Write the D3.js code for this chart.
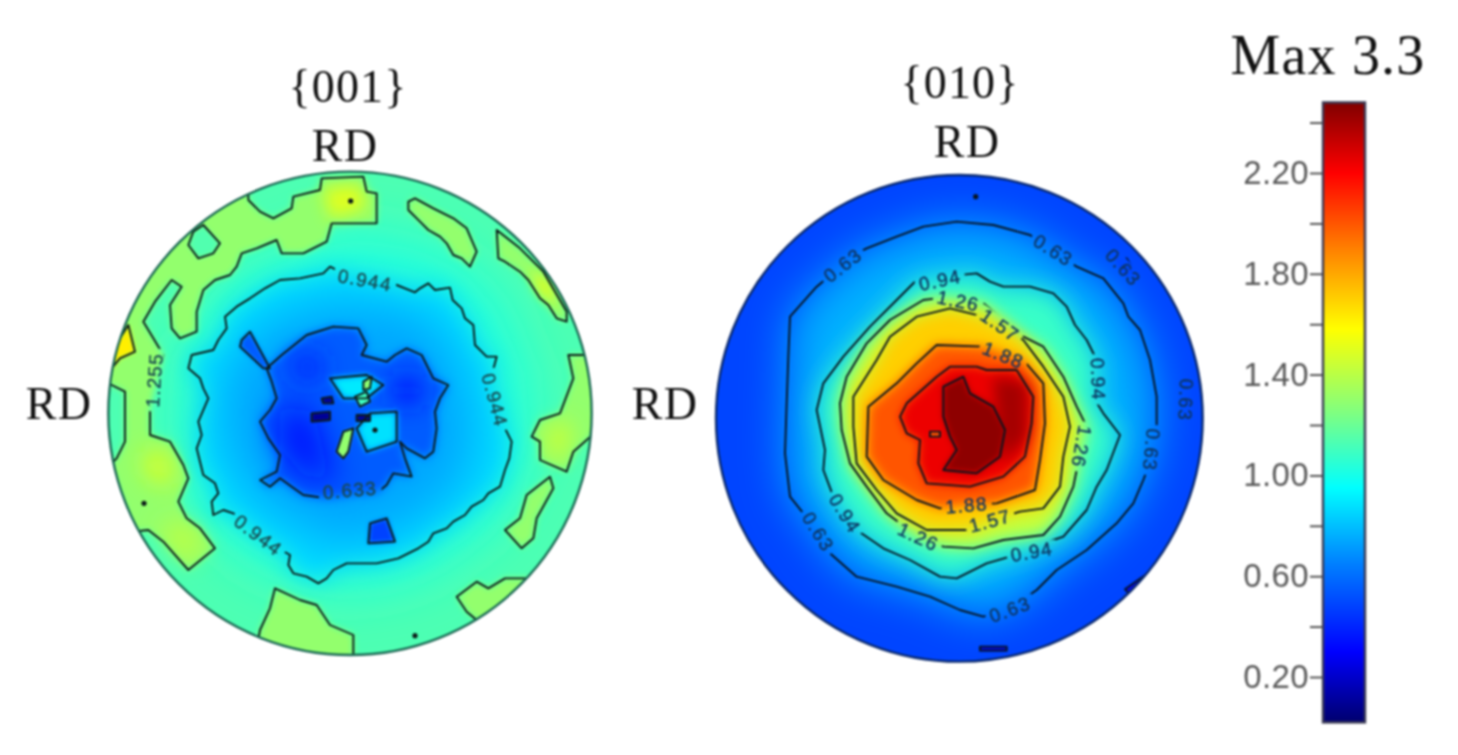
<!DOCTYPE html>
<html><head><meta charset="utf-8">
<script src="https://d3js.org/d3.v7.min.js"></script>
<style>html,body{margin:0;padding:0;background:#fff}svg{display:block;filter:blur(0.8px)}</style>
</head><body><svg id="c" width="1458" height="755"></svg>
<script>
// Colour map (value -> colour)
const barValues=[0.02,0.30,0.65,0.95,1.25,1.58,1.90,2.20,2.48];
const barColors=["#00006e","#0000ff","#0080ff","#00ffff","#80ff80","#ffff00","#ff8000","#ff0000","#800000"];
const barTicks=[0.2,0.4,0.6,0.8,1.0,1.2,1.4,1.6,1.8,2.0,2.2,2.4];
const barLabelled=[0.2,0.6,1.0,1.4,1.8,2.2];

// {001} contours, in figure units (0..1500 across the panel)
const a944=[[670,325],[690,305],[720,320],[800,335],[890,360],[915,370],[945,382],[960,370],[985,355],[1005,375],[1050,368],[1058,405],[1085,430],[1095,460],[1120,480],[1125,540],[1145,560],[1160,575],[1190,575],[1170,650],[1200,730],[1215,790],[1235,830],[1228,880],[1215,915],[1200,965],[1165,985],[1150,1005],[1115,1025],[1095,1050],[1060,1070],[1040,1090],[1000,1105],[985,1130],[955,1150],[925,1165],[895,1180],[830,1195],[740,1195],[700,1215],[680,1240],[655,1255],[620,1235],[580,1225],[565,1200],[570,1170],[500,1130],[440,1080],[400,1045],[370,1035],[340,1050],[335,1010],[355,985],[345,955],[310,930],[300,890],[290,850],[305,810],[295,770],[325,700],[310,670],[300,640],[265,610],[275,570],[340,555],[355,525],[380,490],[375,455],[410,425],[450,400],[495,370],[540,345],[600,340]];
const a125Big=[[445,60],[445,105],[480,140],[520,160],[575,130],[580,95],[660,75],[665,40],[790,35],[800,80],[830,85],[830,175],[695,175],[680,230],[610,265],[545,265],[530,225],[470,250],[425,265],[410,305],[390,330],[345,345],[310,375],[290,440],[290,500],[240,520],[215,490],[210,420],[245,365],[215,345],[165,410],[130,470],[160,520],[190,570],[170,650],[150,730],[150,810],[210,830],[250,900],[265,940],[235,1010],[260,1060],[300,1090],[345,1150],[265,1215],[190,1130],[145,1095],[100,1100],[30,900],[50,880],[75,830],[75,680],[35,660],[-20,650],[-20,400],[250,100]];
const a125Hole=[[310,180],[360,235],[340,265],[295,280],[265,240],[280,200]];
const a125B=[[925,110],[945,100],[1000,130],[1060,160],[1100,190],[1130,260],[1110,305],[1085,280],[1060,270],[1040,235],[1020,215],[985,195],[960,170],[925,135]];
const a125C=[[1190,195],[1260,250],[1330,320],[1400,440],[1400,470],[1370,460],[1345,420],[1320,400],[1285,345],[1260,320],[1215,290],[1195,280]];
const a125D=[[1405,570],[1490,570],[1500,790],[1420,860],[1400,920],[1320,885],[1320,830],[1295,815],[1320,765],[1380,745],[1420,640]];
const a125E=[[1350,935],[1360,970],[1310,1060],[1300,1120],[1265,1150],[1215,1095],[1260,1060],[1280,990]];
const a125F=[[1070,1295],[1130,1250],[1165,1270],[1215,1240],[1300,1240],[1150,1390],[1130,1365],[1100,1340]];
const a125G=[[525,1270],[600,1305],[650,1320],[690,1380],[760,1410],[760,1490],[470,1450],[480,1395],[510,1330]];
const a157Rim=[[85,480],[105,560],[60,580],[35,610],[0,620],[10,500],[60,520]];
const aHotLeft=[[130,860],[200,860],[220,950],[190,960],[140,930]];
const aHotLow=[[190,1070],[260,1080],[310,1140],[265,1190],[200,1120]];
const aHotTop=[[670,70],[780,60],[800,130],[690,160]];
const aHotRight=[[1290,310],[1350,350],[1380,430],[1320,380]];
const aHotD=[[1340,780],[1420,770],[1400,880],[1340,870]];
const a633Main=[[620,510],[700,485],[775,490],[800,540],[785,570],[860,590],[885,570],[920,550],[965,570],[985,610],[1000,640],[1045,660],[1020,700],[1005,740],[1010,790],[1000,860],[975,880],[920,850],[900,830],[915,880],[935,935],[880,925],[860,960],[830,985],[760,990],[680,1000],[610,990],[575,965],[540,940],[510,965],[480,945],[530,920],[540,870],[505,820],[490,790],[480,770],[510,735],[530,700],[515,650],[500,610],[545,570]];
const a633Arm=[[425,525],[450,500],[510,610],[490,610],[420,545]];
const a633Sq=[[810,1075],[860,1060],[885,1130],[805,1135]];
const aCyan1=[[690,640],[800,630],[850,660],[800,700],[730,700]];
const aCyan2=[[810,745],[890,740],[890,830],[800,860],[770,790]];
const aGreen1=[[790,650],[815,635],[810,670],[790,675]];
const aGreen2=[[710,860],[730,800],[760,790],[745,860],[730,880]];
const aGreen3=[[765,695],[800,680],[810,710],[780,725]];
const aBlob1=[[665,700],[695,695],[700,715],[670,715]];
const aBlob2=[[635,745],[690,740],[690,765],[635,770]];
const aBlob3=[[770,750],[810,750],[810,768],[770,768]];
const aRing=[[750,190],[1010,240],[1200,380],[1300,620],[1310,850],[1190,1090],[950,1250],[720,1290],[470,1210],[280,1050],[220,800],[240,560],[400,330]];
const aHaze=[[690,400],[950,430],[1060,540],[1130,760],[1100,950],[930,1090],[700,1150],[450,1000],[360,820],[370,620],[490,470]];
const aDeep1=[[540,720],[640,740],[670,860],[720,950],[610,930],[540,850]];
const aDeep2=[[570,570],[660,570],[670,640],[590,650]];
const aDeep3=[[880,630],[970,640],[960,720],[880,720]];

// {010} contours
const b63=[[470,235],[560,200],[640,170],[740,155],[850,165],[960,195],[1030,240],[1100,290],[1180,325],[1240,400],[1255,440],[1290,480],[1320,570],[1340,680],[1340,770],[1330,850],[1300,930],[1270,1000],[1220,1060],[1130,1140],[1040,1200],[980,1260],[900,1315],[820,1340],[750,1320],[660,1280],[560,1250],[440,1220],[360,1150],[320,1085],[280,1030],[240,980],[225,850],[230,700],[235,560],[240,440],[320,350],[440,250]];
const b94=[[620,330],[700,320],[800,310],[840,335],[880,350],[960,350],[1030,370],[1070,410],[1095,465],[1130,510],[1160,570],[1165,630],[1155,690],[1180,730],[1230,795],[1190,900],[1160,950],[1130,1020],[1060,1100],[1030,1110],[965,1140],[900,1160],[830,1180],[740,1225],[690,1220],[600,1170],[520,1135],[440,1080],[405,1030],[370,980],[340,900],[345,840],[320,720],[340,640],[400,560],[480,470],[560,390]];
const b126=[[680,385],[640,390],[540,450],[470,520],[410,620],[390,700],[395,780],[420,880],[470,950],[530,1030],[570,1060],[625,1100],[700,1130],[790,1135],[880,1110],[1000,1095],[1050,1040],[1090,950],[1100,900],[1115,830],[1130,770],[1100,710],[1060,620],[1000,530],[940,500],[820,400],[745,390]];
const b157=[[820,440],[720,415],[620,440],[540,500],[500,570],[430,680],[430,770],[440,880],[500,960],[560,1030],[650,1080],[780,1080],[850,1050],[930,1025],[1000,1015],[1050,950],[1060,860],[1080,770],[1060,680],[1000,590],[940,510],[870,465]];
const b188=[[680,525],[820,530],[880,550],[940,570],[1000,640],[1005,760],[990,870],[975,960],[860,1000],[770,1005],[690,1015],[620,990],[520,930],[470,860],[475,710],[560,640],[620,580]];
const b220=[[720,590],[800,590],[830,600],[920,600],[970,680],[965,760],[945,860],[880,920],[780,950],[650,940],[625,880],[630,810],[590,790],[570,740],[590,700],[680,620]];
const b240=[[700,650],[760,620],[780,670],[850,710],[885,780],[870,860],[800,910],[700,900],[740,840],[720,800],[700,740]];
const bDarkSide=[[850,620],[950,640],[950,800],[880,880],[860,720]];
const bSmallA=[[1215,265],[1250,265],[1275,310],[1240,320]];
const bSmallB=[[810,1430],[890,1430],[890,1442],[810,1442]];
const bSmallC=[[1245,1258],[1320,1205],[1325,1215],[1255,1268]];
const bSmallD=[[660,785],[690,785],[690,800],[660,800]];

// layers: [contour, value shown inside it, softness, draw outline]
const layers001=[[aRing,1.03,26,0],[a944,0.87,12,1],[aHaze,0.74,24,0],[a125Big,1.3,3,1],[a125B,1.3,3,1],[a125C,1.3,3,1],[a125D,1.3,3,1],[a125E,1.3,3,1],[a125F,1.3,3,1],[a125G,1.3,3,1],[a125Hole,1.14,2,1],[aHotLeft,1.5,12,0],[aHotLow,1.42,12,0],[aHotTop,1.5,8,0],[aHotRight,1.52,7,0],[aHotD,1.42,10,0],[a157Rim,1.62,2,1],[a633Main,0.55,5,1],[a633Arm,0.55,2,1],[a633Sq,0.48,2,1],[aDeep1,0.34,16,0],[aDeep2,0.4,12,0],[aDeep3,0.38,12,0],[aCyan1,0.9,3,1],[aCyan2,0.88,3,1],[aGreen1,1.3,1,1],[aGreen2,1.3,1,1],[aGreen3,1.1,1,1],[aBlob1,0.1,1,1],[aBlob2,0.1,1,1],[aBlob3,0.1,1,1]];
const layers010=[[b63,0.76,22,1],[b94,1.08,13,1],[b126,1.43,8,1],[b157,1.7,8,1],[b188,2.0,6,1],[b220,2.24,5,1],[bDarkSide,2.4,7,0],[b240,2.45,3,1],[bSmallA,0.5,1,1],[bSmallB,0.25,1,1],[bSmallC,0.3,1,1],[bSmallD,2.0,1,1]];
const base001=1.13, base010=0.49;

// contour labels: [text, x, y, rotation]
const labels001=[["0.944",795,345,10],["0.944",1185,705,75],["0.944",475,1110,37],["1.255",162,645,-86],["0.633",750,975,-5]];
const labels010=[["0.63",398,285,-38],["0.63",1030,240,32],["0.63",1240,292,48],["0.63",1428,690,92],["0.63",1325,840,96],["0.63",900,1318,-20],["0.63",325,1085,58],["0.94",690,330,-12],["0.94",1165,628,88],["0.94",965,1145,-10],["0.94",405,1030,58],["1.26",745,392,12],["1.26",1115,830,100],["1.26",625,1100,25],["1.57",870,465,35],["1.57",840,1052,-15],["1.88",880,555,22],["1.88",770,1005,-5]];
const dots001=[[752,108],[132,1015],[945,1412],[825,795]];
const dots010=[[797,80]];

const svg=d3.select("#c"), defs=svg.append("defs");
const jet=d3.scaleLinear().domain(barValues).range(barColors).interpolate(d3.interpolateRgb);
const softSet=new Set([...layers001,...layers010].map(l=>l[2]));
softSet.forEach(s=>{
  defs.append("filter").attr("id","soft"+s).attr("filterUnits","userSpaceOnUse")
    .attr("x",0).attr("y",0).attr("width",1458).attr("height",755)
    .append("feGaussianBlur").attr("stdDeviation",s);
});

function panel(id,x0,y0,cx,cy,r,base,layers,labels,dots,rim,lineCol,textCol){
  const x=d3.scaleLinear().domain([0,1500]).range([x0,x0+500]);
  const y=d3.scaleLinear().domain([0,1500]).range([y0,y0+500]);
  const line=d3.line().x(d=>x(d[0])).y(d=>y(d[1]));
  const R=x(cx+r)-x(cx);
  defs.append("clipPath").attr("id","clip"+id).append("circle").attr("cx",x(cx)).attr("cy",y(cy)).attr("r",R);
  const mask=defs.append("mask").attr("id","gap"+id).attr("maskUnits","userSpaceOnUse")
    .attr("x",0).attr("y",0).attr("width",1458).attr("height",755);
  mask.append("rect").attr("width",1458).attr("height",755).attr("fill","#fff");
  mask.selectAll("rect.g").data(labels).join("rect").attr("class","g")
    .attr("x",d=>-d[0].length*6.3).attr("y",-8).attr("width",d=>d[0].length*12.6).attr("height",16).attr("fill","#000")
    .attr("transform",d=>`translate(${x(d[1])},${y(d[2])}) rotate(${d[3]})`);
  const g=svg.append("g").attr("clip-path",`url(#clip${id})`);
  g.append("circle").attr("cx",x(cx)).attr("cy",y(cy)).attr("r",R).attr("fill",jet(base));
  g.selectAll("path.f").data(layers).join("path").attr("class","f")
    .attr("d",d=>line(d[0])+"Z").attr("fill",d=>jet(d[1])).attr("filter",d=>`url(#soft${d[2]})`);
  g.append("g").attr("mask",`url(#gap${id})`).selectAll("path").data(layers.filter(l=>l[3])).join("path")
    .attr("d",d=>line(d[0])+"Z").attr("fill","none").attr("stroke",lineCol).attr("stroke-width",1.9).attr("stroke-linejoin","round");
  g.selectAll("circle.d").data(dots).join("circle").attr("class","d")
    .attr("cx",d=>x(d[0])).attr("cy",d=>y(d[1])).attr("r",2.6).attr("fill",lineCol);
  g.selectAll("text").data(labels).join("text")
    .attr("transform",d=>`translate(${x(d[1])},${y(d[2])}) rotate(${d[3]})`)
    .attr("text-anchor","middle").attr("dy","0.36em")
    .style("font","19px 'Liberation Sans'").style("letter-spacing","1.4px")
    .attr("fill",textCol).attr("stroke",textCol).attr("stroke-width",0.35).text(d=>d[0]);
  svg.append("circle").attr("cx",x(cx)).attr("cy",y(cy)).attr("r",R).attr("fill","none").attr("stroke",rim).attr("stroke-width",2.4);
}
panel("A",100,165,750,745,725,base001,layers001,labels001,dots001,"#1c6a55","#0c1a18","#1a4a50");
panel("B",710,170,748,745,730,base010,layers010,labels010,dots010,"#0a2a70","#08141f","#0f3560");

// Colour bar
const by=d3.scaleLinear().domain([0.2,2.2]).range([677,173]);
const barTop=by(2.48), barBot=by(0.02);
const grad=defs.append("linearGradient").attr("id","bar").attr("x1",0).attr("x2",0).attr("y1",1).attr("y2",0);
grad.selectAll("stop").data(barValues).join("stop")
  .attr("offset",d=>(d-0.02)/(2.48-0.02)).attr("stop-color",d=>jet(d));
svg.append("rect").attr("x",1323).attr("y",barTop).attr("width",42).attr("height",barBot-barTop)
  .attr("fill","url(#bar)").attr("stroke","#3b3b55").attr("stroke-width",2.4);
const ax=svg.append("g").attr("transform","translate(1322,0)")
  .call(d3.axisLeft(by).tickValues(barTicks).tickSize(12).tickPadding(1)
    .tickFormat(d=>barLabelled.some(v=>Math.abs(v-d)<1e-6)?d3.format(".2f")(d):""));
ax.select(".domain").remove();
ax.selectAll("line").attr("stroke","#444").attr("stroke-width",1.8);
ax.selectAll("text").style("font","33px 'Liberation Sans'").style("letter-spacing","0.4px").attr("fill","#5a5a5a");

// Serif titles
const titles=[["{001}",348,86,46],["RD",345,145,46],["RD",59,403,46],["{010}",960,82,46],["RD",967,141,46],["RD",665,403,46],["Max 3.3",1328,55,56]];
svg.selectAll("text.t").data(titles).join("text").attr("class","t")
  .attr("x",d=>d[1]).attr("y",d=>d[2]).attr("text-anchor","middle").attr("dy","0.34em")
  .style("font-family","'Liberation Serif'").style("font-size",d=>d[3]+"px").style("letter-spacing","1.2px").attr("fill","#111").text(d=>d[0]);
</script></body></html>
